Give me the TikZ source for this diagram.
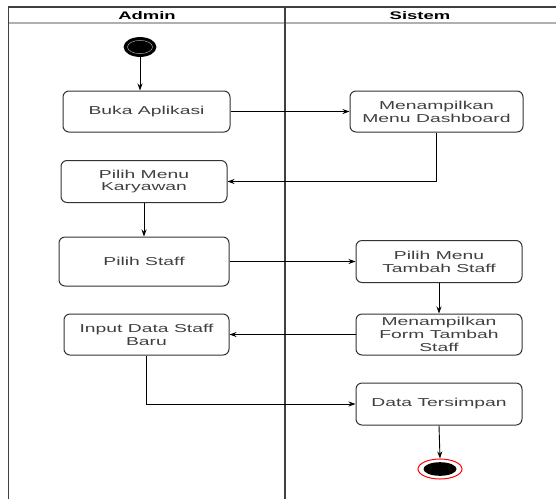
\documentclass[tikz,border=0pt]{standalone}
\usepackage{fontspec}
\setmainfont[FakeStretch=1.68]{Liberation Sans}
\usetikzlibrary{shapes.geometric,arrows.meta}
\definecolor{boxline}{HTML}{333333}
\definecolor{txt}{HTML}{404040}
\definecolor{frame}{HTML}{404040}
\definecolor{sep}{HTML}{B0B0B0}
\tikzset{
  act/.style={draw=boxline, line width=1pt, rounded corners=6pt, fill=white,
    align=center, inner sep=0pt, text=txt, font=\fontsize{11.5}{12.8}\selectfont},
  flow/.style={draw=black, line width=0.9pt, -{Stealth[length=7pt,width=5pt]}},
  lane/.style={font=\bfseries\fontsize{11}{12}\selectfont, text=black, inner sep=0pt}
}
\begin{document}
\begin{tikzpicture}[x=1pt,y=-1pt]
\useasboundingbox (0,0) rectangle (556,499);
% frame
\draw[sep, line width=1.8pt] (8.5,23) -- (556,23);
\draw[frame, line width=1.3pt] (8.5,7) -- (556,7);
\draw[frame, line width=1.6pt] (8.5,6.4) -- (8.5,499);
\draw[frame, line width=1.8pt] (285,6.4) -- (285,499);
\node[lane] (admin) at (147,15.5) {Admin};
\node[lane] (sistem) at (420,15.5) {Sistem};
% start
\node[ellipse, fill=black, draw=black, line width=0.8pt, minimum width=32pt, minimum height=19pt, inner sep=0pt] (start) at (140,47) {};
\draw[gray!70, line width=0.5pt] (start.center) ellipse (12.5pt and 6.6pt);
% activities
\node[act, minimum width=167pt, minimum height=41pt] (buka) at (146.5,111.5) {Buka Aplikasi};
\node[act, minimum width=173pt, minimum height=41pt] (dash) at (436.5,111.5) {Menampilkan\\Menu Dashboard};
\node[act, minimum width=166pt, minimum height=42pt] (kary) at (144,181.5) {Pilih Menu\\Karyawan};
\node[act, minimum width=170pt, minimum height=49pt] (staff) at (144,261.5) {Pilih Staff};
\node[act, minimum width=166pt, minimum height=42pt] (tambah) at (439,261.5) {Pilih Menu\\Tambah Staff};
\node[act, minimum width=165pt, minimum height=41pt] (input) at (146.5,334.5) {Input Data Staff\\Baru};
\node[act, minimum width=166pt, minimum height=41pt] (form) at (439,334.5) {Menampilkan\\Form Tambah\\Staff};
\node[act, minimum width=166pt, minimum height=42pt] (data) at (439,404) {Data Tersimpan};
% end
\node[ellipse, draw=red, line width=1pt, fill=white, minimum width=44pt, minimum height=20pt, inner sep=0pt] (end) at (440,469) {};
\fill[black] (end.center) ellipse (16.5pt and 6.8pt);
% connectors
\draw[flow] (start.south) -- (start.south |- buka.north);
\draw[flow] (buka.east) -- (dash.west);
\draw[flow] (dash.south) |- (kary.east);
\draw[flow] (kary.south) -- (staff.north);
\draw[flow] (staff.east) -- (tambah.west);
\draw[flow] (tambah.south) -- (form.north);
\draw[flow] (form.west) -- (input.east);
\draw[flow] (input.south) |- (data.west);
\draw[flow] (data.south) -- (end.north);
\end{tikzpicture}
\end{document}
